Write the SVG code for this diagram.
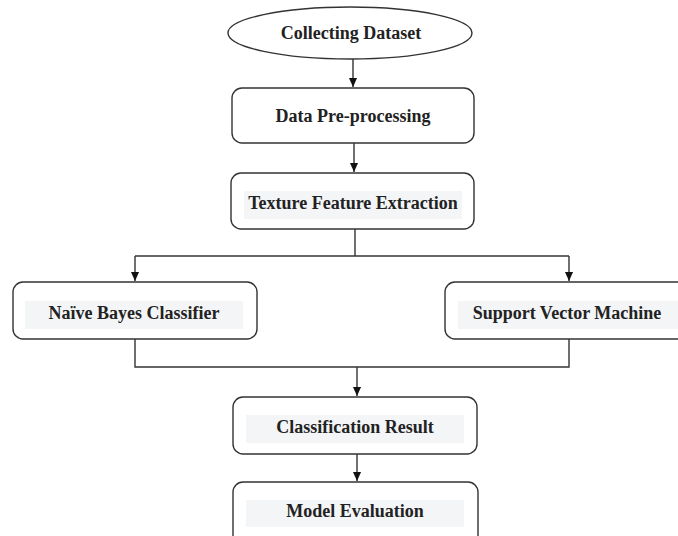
<svg xmlns="http://www.w3.org/2000/svg" width="678" height="536" viewBox="0 0 678 536">
  <style>
    .box { fill: #ffffff; stroke: #333333; stroke-width: 1.4; }
    .hl { fill: #f4f5f7; }
    .lbl { font-family: "Liberation Serif", "Times New Roman", serif; font-weight: bold; font-size: 18px; fill: #222222; text-anchor: middle; }
    .wire { fill: none; stroke: #333333; stroke-width: 1.4; }
  </style>
  <defs>
    <marker id="arrow" viewBox="0 0 10 10" refX="10" refY="5" markerWidth="9" markerHeight="9" markerUnits="userSpaceOnUse" orient="auto">
      <path d="M0,0.5 L10,5 L0,9.5 z" fill="#111111"/>
    </marker>
  </defs>
  <rect width="678" height="536" fill="#ffffff"/>

  <g id="connectors">
    <line class="wire" x1="353" y1="59" x2="353" y2="87" marker-end="url(#arrow)"/>
    <line class="wire" x1="354" y1="143" x2="354" y2="172" marker-end="url(#arrow)"/>
    <polyline class="wire" points="355,229 355,256"/>
    <line class="wire" x1="135" y1="256" x2="569" y2="256"/>
    <line class="wire" x1="135" y1="256" x2="135" y2="281" marker-end="url(#arrow)"/>
    <line class="wire" x1="569" y1="256" x2="569" y2="281" marker-end="url(#arrow)"/>
    <polyline class="wire" points="135,339 135,367 569,367 569,339"/>
    <line class="wire" x1="357" y1="367" x2="357" y2="396" marker-end="url(#arrow)"/>
    <line class="wire" x1="357" y1="454" x2="357" y2="481" marker-end="url(#arrow)"/>
  </g>

  <g id="collecting-dataset">
    <ellipse class="box" cx="350" cy="33" rx="122" ry="26"/>
    <text class="lbl" x="351" y="39">Collecting Dataset</text>
  </g>

  <g id="data-preprocessing">
    <rect class="box" x="232" y="88" width="242" height="55" rx="10"/>
    <text class="lbl" x="353" y="122">Data Pre-processing</text>
  </g>

  <g id="texture-feature-extraction">
    <rect class="box" x="231" y="173" width="243" height="56" rx="10"/>
    <rect class="hl" x="244" y="191" width="218" height="28"/>
    <text class="lbl" x="353" y="209">Texture Feature Extraction</text>
  </g>

  <g id="naive-bayes">
    <rect class="box" x="13" y="282" width="244" height="57" rx="10"/>
    <rect class="hl" x="25" y="301" width="218" height="28"/>
    <text class="lbl" x="134" y="319">Naïve Bayes Classifier</text>
  </g>

  <g id="svm">
    <rect class="box" x="445" y="282" width="250" height="57" rx="10"/>
    <rect class="hl" x="458" y="301" width="220" height="28"/>
    <text class="lbl" x="567" y="319">Support Vector Machine</text>
  </g>

  <g id="classification-result">
    <rect class="box" x="233" y="397" width="244" height="57" rx="10"/>
    <rect class="hl" x="246" y="415" width="218" height="28"/>
    <text class="lbl" x="355" y="433">Classification Result</text>
  </g>

  <g id="model-evaluation">
    <rect class="box" x="233" y="482" width="245" height="70" rx="10"/>
    <rect class="hl" x="246" y="500" width="218" height="27"/>
    <text class="lbl" x="355" y="517">Model Evaluation</text>
  </g>
</svg>
